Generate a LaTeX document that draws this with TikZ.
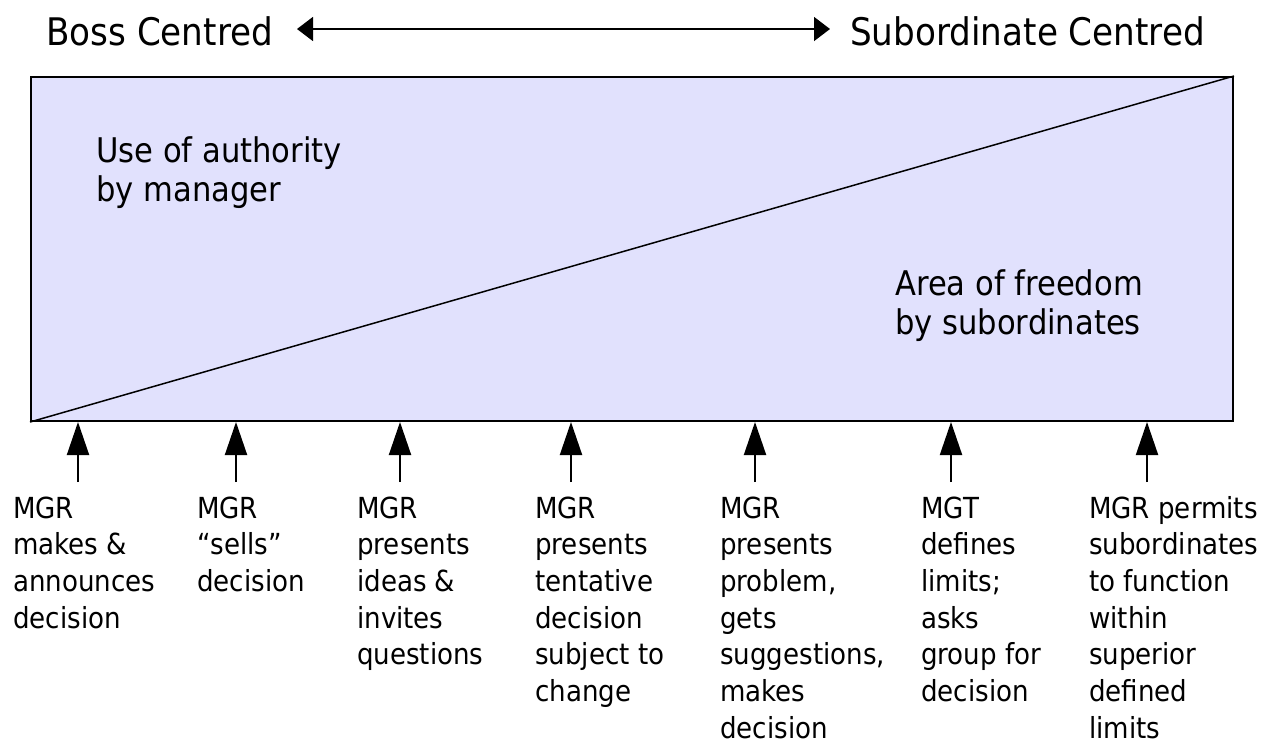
\documentclass[tikz,border=0pt]{standalone}
\usepackage{fontspec}
\setmainfont{DejaVu Sans}[FakeStretch=0.9]
\usetikzlibrary{arrows.meta}
\definecolor{freedom}{RGB}{225,225,253}

\begin{document}
\begin{tikzpicture}[x=1pt, y=-1pt,
  heading/.style={anchor=base west, inner sep=0pt, font=\fontsize{38}{44}\selectfont},
  area/.style={anchor=base west, inner sep=0pt, align=left, font=\fontsize{34}{39.5}\selectfont},
  behaviour/.style={anchor=base west, inner sep=0pt, align=left, font=\fontsize{29}{36.7}\selectfont},
  push/.style={line width=2pt, -{Triangle[width=22pt,length=33pt]}}]
  \useasboundingbox (0,0) rectangle (1276,748);

  % the continuum at the top
  \node[heading] (boss) at (46,45) {Boss Centred};
  \node[heading] (sub) at (850,45) {Subordinate Centred};
  \coordinate (bosstip) at (297,29);
  \coordinate (subtip) at (830,29);
  \draw[line width=1.6pt, {Triangle[width=24pt,length=16pt]}-{Triangle[width=24pt,length=16pt]}] (bosstip) -- (subtip);

  % authority vs freedom
  \node[draw, fill=freedom, line width=2pt, inner sep=0pt, anchor=north west,
        minimum width=1202pt, minimum height=344pt] (panel) at (30,76) {};
  \draw[line width=1.5pt] (panel.south west) -- (panel.north east);
  % base of a multi-line node is its last line
  \node[area] (authority) at (96,201.5) {Use of authority\\by manager};
  \node[area] (area) at (895,334.5) {Area of freedom\\by subordinates};

  % styles of leadership
  \node[behaviour] (tells) at (13,628.1) {MGR\\makes \&\\announces\\decision};
  \node[behaviour] (sells) at (197,591.4) {MGR\\“sells”\\decision};
  \node[behaviour] (consults) at (357,664.8) {MGR\\presents\\ideas \&\\invites\\questions};
  \node[behaviour] (tentative) at (535,701.5) {MGR\\presents\\tentative\\decision\\subject to\\change};
  \node[behaviour] (problem) at (720,738.2) {MGR\\presents\\problem,\\gets\\suggestions,\\makes\\decision};
  \node[behaviour] (limits) at (921,701.5) {MGT\\defines\\limits;\\asks\\group for\\decision};
  \node[behaviour] (permits) at (1089,738.2) {MGR permits\\subordinates\\to function\\within\\superior\\defined\\limits};

  \coordinate (p1) at (78,482);
  \coordinate (p2) at (236,482);
  \coordinate (p3) at (400,482);
  \coordinate (p4) at (571,482);
  \coordinate (p5) at (755,482);
  \coordinate (p6) at (951,482);
  \coordinate (p7) at (1147,482);
  \draw[push] (p1) -- (p1 |- panel.south);
  \draw[push] (p2) -- (p2 |- panel.south);
  \draw[push] (p3) -- (p3 |- panel.south);
  \draw[push] (p4) -- (p4 |- panel.south);
  \draw[push] (p5) -- (p5 |- panel.south);
  \draw[push] (p6) -- (p6 |- panel.south);
  \draw[push] (p7) -- (p7 |- panel.south);
\end{tikzpicture}
\end{document}
